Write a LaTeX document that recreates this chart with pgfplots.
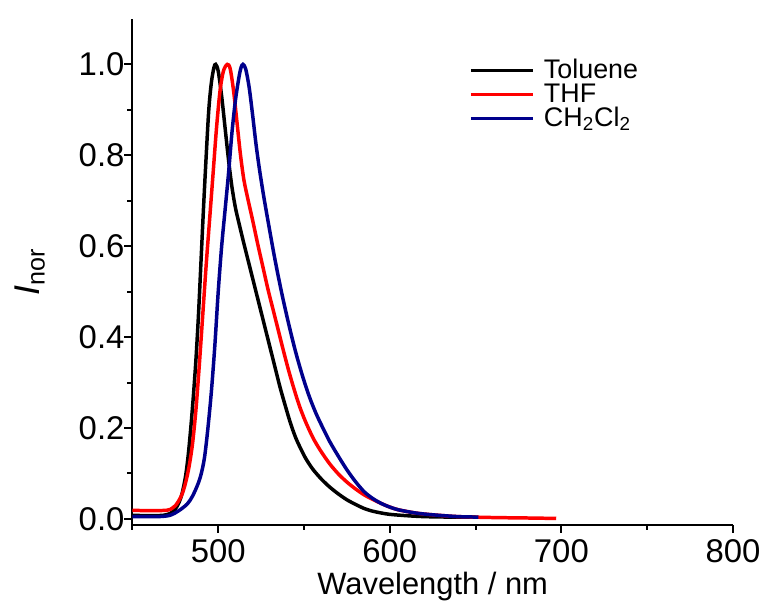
\documentclass[border=0pt]{standalone}
\usepackage{pgfplots}
\pgfplotsset{compat=1.18}
\usepackage{pgfplotstable}
\usepackage{fontspec}
\setmainfont{Liberation Sans}

\definecolor{navyblue}{RGB}{0,0,140}

% emission spectra, normalised
\pgfplotstableread{
x y
450 0.008
460 0.007
468 0.008
472 0.012
475 0.022
477 0.035
479 0.057
481 0.095
482.5 0.14
484 0.2
485.5 0.27
487 0.35
488.5 0.45
490 0.57
491.5 0.69
493 0.8
494.5 0.9
496 0.96
497.5 0.993
498.5 1.0
500 0.985
502 0.93
504 0.86
506 0.79
508 0.73
510 0.685
512 0.652
515 0.605
518 0.56
521 0.515
524 0.47
527 0.425
530 0.38
533 0.335
536 0.29
539 0.25
542 0.212
545 0.18
548 0.155
551 0.133
555 0.11
560 0.088
565 0.07
570 0.055
575 0.042
580 0.032
585 0.023
590 0.017
595 0.013
600 0.010
610 0.007
620 0.005
635 0.004
650 0.004
}\toluene

\pgfplotstableread{
x y
450 0.019
460 0.018
470 0.019
473 0.023
475 0.029
477 0.04
479 0.055
481 0.08
483 0.115
485 0.165
487 0.24
489 0.34
491 0.45
493 0.56
495 0.66
497 0.76
499 0.86
501 0.94
503 0.985
505.3 1.0
507 0.99
509 0.94
511 0.87
513 0.8
515 0.745
517.5 0.7
520 0.658
523 0.605
526 0.555
529 0.505
532 0.46
535 0.415
538 0.37
541 0.327
544 0.288
547 0.252
550 0.222
553 0.196
556 0.173
560 0.148
565 0.121
570 0.099
575 0.081
580 0.066
585 0.053
590 0.043
595 0.034
600 0.026
605 0.02
615 0.013
625 0.009
640 0.005
660 0.003
680 0.002
697 0.001
}\thf

\pgfplotstableread{
x y
450 0.005
465 0.005
472 0.008
477 0.018
482 0.033
485 0.05
488 0.075
490 0.098
492 0.135
494 0.2
496 0.28
498 0.38
500 0.5
502 0.6
504 0.68
506 0.76
508 0.85
510 0.92
512 0.97
513.3 0.993
514.4 1.0
516 0.99
518 0.95
520 0.89
522 0.825
524 0.77
526.5 0.71
529.5 0.645
533 0.572
537 0.497
541 0.43
545 0.369
549 0.316
553 0.27
557 0.232
561 0.2
565 0.17
570 0.138
575 0.108
580 0.082
585 0.06
590 0.045
595 0.034
600 0.026
605 0.02
615 0.013
625 0.009
640 0.005
651.6 0.004
}\dcm

\begin{document}
\begin{tikzpicture}
\begin{axis}[
    scale only axis,
    width=301.5pt, height=254pt,
    xmin=450, xmax=800, ymin=-0.013, ymax=1.1,
    axis x line*=bottom, axis y line*=left,
    axis line style={line width=1pt},
    tick align=outside,
    tick style={line width=1pt, black},
    major tick length=4pt, minor tick length=2.5pt,
    xtick={500,600,700,800}, minor xtick={450,550,650,750},
    ytick={0,0.2,0.4,0.6,0.8,1.0}, minor ytick={0.1,0.3,0.5,0.7,0.9},
    /pgf/number format/assume math mode=true,
    tick label style={font=\fontsize{16.5}{18}\selectfont},
    yticklabel style={xshift=3.5pt, /pgf/number format/.cd, fixed, fixed zerofill, precision=1},
    xlabel style={font=\fontsize{15.5}{18}\selectfont,
        at={(axis description cs:0.5,-0.121)}, anchor=center},
    ylabel style={font=\fontsize{18}{20}\selectfont,
        at={(axis description cs:-0.171,0.5)}, anchor=center},
    xlabel={Wavelength / nm},
    ylabel={\textit{I}\textsubscript{nor}},
    legend style={at={(rel axis cs:0.55,0.93)}, anchor=north west, draw=none, fill=none,
        font=\fontsize{13.5}{15}\selectfont, row sep=0pt,
        nodes={inner sep=0.25pt, text height=9.8pt, text depth=1.7pt}},
    legend cell align=left,
    legend image code/.code={\draw[#1] (0cm,0cm) -- (1.1cm,0cm); \path (1.25cm,0cm);},
    every axis plot/.append style={line width=1.75pt},
    after end axis/.code={
        \path (rel axis cs:0,1) ++(-66.5pt,9.5pt);
        \path (rel axis cs:1,0) ++(15.5pt,-41.25pt);
    },
]
\addplot[black, smooth] table {\toluene};
\addplot[red, smooth] table {\thf};
\addplot[navyblue, smooth] table {\dcm};
\legend{Toluene, THF, CH\textsubscript{2}Cl\textsubscript{2}}
\end{axis}
\end{tikzpicture}
\end{document}
